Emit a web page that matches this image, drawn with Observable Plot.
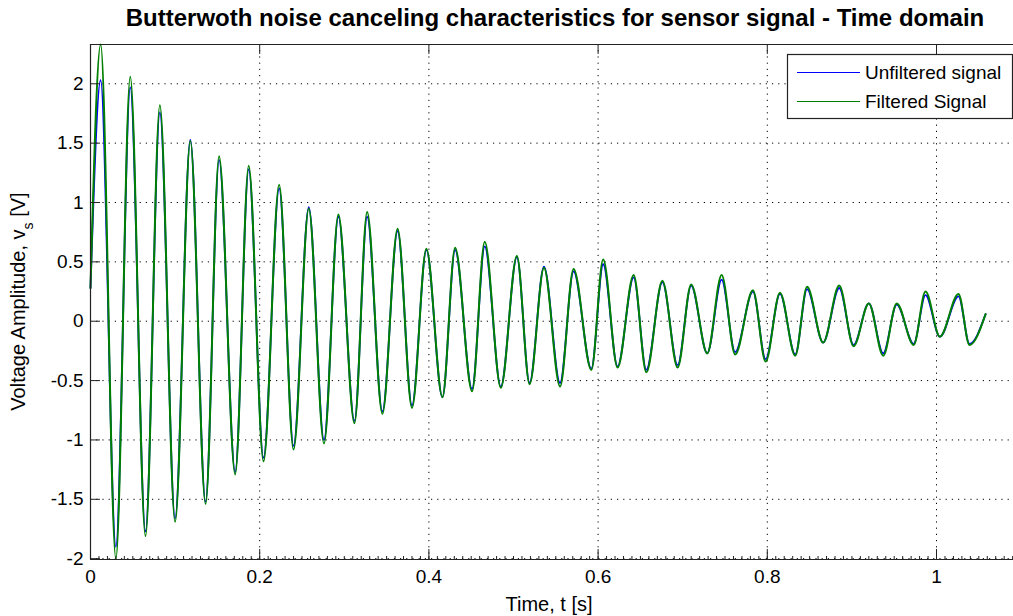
<!DOCTYPE html>
<html>
<head>
<meta charset="utf-8">
<script src="https://cdn.jsdelivr.net/npm/d3@7"></script>
<script src="https://cdn.jsdelivr.net/npm/@observablehq/plot@0.6"></script>
<style>
html, body { margin: 0; padding: 0; background: #fff; overflow: hidden; }
#chart { width: 1013px; height: 616px; }
</style>
</head>
<body>
<div id="chart"></div>
<script>
// ---- data (times of successive extrema, seconds) ----
const time = [0.000, 0.012, 0.030, 0.047, 0.065, 0.082, 0.100, 0.118, 0.136, 0.152,
  0.171, 0.187, 0.2045, 0.223, 0.240, 0.258, 0.276, 0.293, 0.312, 0.327,
  0.345, 0.363, 0.380, 0.397, 0.416, 0.431, 0.451, 0.466, 0.485, 0.504,
  0.519, 0.536, 0.555, 0.571, 0.592, 0.606, 0.623, 0.642, 0.657, 0.676,
  0.694, 0.710, 0.729, 0.746, 0.762, 0.783, 0.798, 0.815, 0.833, 0.847,
  0.866, 0.885, 0.902, 0.920, 0.937, 0.953, 0.973, 0.987, 1.004, 1.026,
  1.039, 1.058];
const unfiltered = [0.28, 2.03, -1.90, 1.97, -1.77, 1.76, -1.66, 1.53, -1.52, 1.36,
  -1.27, 1.28, -1.15, 1.12, -1.05, 0.96, -1.00, 0.88, -0.84, 0.88,
  -0.76, 0.76, -0.71, 0.60, -0.64, 0.60, -0.57, 0.63, -0.55, 0.54,
  -0.52, 0.46, -0.52, 0.42, -0.40, 0.48, -0.38, 0.37, -0.41, 0.33,
  -0.37, 0.30, -0.27, 0.35, -0.26, 0.25, -0.32, 0.23, -0.28, 0.27,
  -0.18, 0.28, -0.20, 0.15, -0.27, 0.14, -0.19, 0.22, -0.13, 0.21,
  -0.19, 0.06];
const filtered = [0.28, 2.33, -2.00, 2.06, -1.81, 1.82, -1.69, 1.52, -1.54, 1.39,
  -1.29, 1.31, -1.18, 1.15, -1.08, 0.95, -1.03, 0.90, -0.86, 0.92,
  -0.78, 0.78, -0.73, 0.61, -0.64, 0.62, -0.59, 0.67, -0.56, 0.55,
  -0.53, 0.45, -0.55, 0.44, -0.41, 0.52, -0.39, 0.39, -0.43, 0.34,
  -0.39, 0.31, -0.27, 0.39, -0.28, 0.26, -0.34, 0.24, -0.29, 0.29,
  -0.18, 0.30, -0.21, 0.15, -0.29, 0.15, -0.20, 0.25, -0.13, 0.23,
  -0.20, 0.06];
const seriesNames = ["Unfiltered signal", "Filtered Signal"];
const seriesColors = ["#0000ff", "#008000"];
const xTicks = [0, 0.2, 0.4, 0.6, 0.8, 1];
const xTickLabels = ["0", "0.2", "0.4", "0.6", "0.8", "1"];
const yTicks = [-2, -1.5, -1, -0.5, 0, 0.5, 1, 1.5, 2];
const yTickLabels = ["-2", "-1.5", "-1", "-0.5", "0", "0.5", "1", "1.5", "2"];
const xDomain = [0, 1.091];
const yDomain = [-2.007, 2.331];
const titleText = "Butterwoth noise canceling characteristics for sensor signal - Time domain";
const xLabelText = "Time, t [s]";

// ---- layout ----
const W = 1013, H = 616, mL = 90, mR = 0, mT = 44, mB = 57;
const frameW = W - mL - mR, frameH = H - mT - mB;
const FONT = "Arial, 'Liberation Sans', Helvetica, sans-serif";
const xMinor = d3.range(0, 110).map(i => i / 100);

const data = time.map((t, i) => ({t, u: unfiltered[i], f: filtered[i]}));

const chart = Plot.plot({
  width: W, height: H,
  marginLeft: mL, marginRight: mR, marginTop: mT, marginBottom: mB,
  style: {fontFamily: FONT, fontSize: "19px", color: "#000", background: "#fff"},
  x: {domain: xDomain},
  y: {domain: yDomain},
  marks: [
    Plot.gridX(xTicks, {stroke: "#000", strokeOpacity: 1, strokeDasharray: "1.2,5"}),
    Plot.gridY(yTicks, {stroke: "#000", strokeOpacity: 1, strokeDasharray: "1.2,5"}),
    Plot.line(data, {x: "t", y: "u", stroke: seriesColors[0], strokeWidth: 1.8, curve: "monotone-x"}),
    Plot.line(data, {x: "t", y: "f", stroke: seriesColors[1], strokeWidth: 2, curve: "monotone-x"}),
    // box lines
    Plot.ruleX([xDomain[0]], {stroke: "#222", strokeWidth: 1.2}),
    Plot.ruleY(yDomain, {stroke: "#222", strokeWidth: 1.2}),
    // inward ticks
    Plot.tickX(xTicks, {x: d => d, insetTop: frameH - 10, stroke: "#222"}),
    Plot.tickX(xTicks, {x: d => d, insetBottom: frameH - 10, stroke: "#222"}),
    Plot.tickX(xMinor, {x: d => d, insetTop: frameH - 3, stroke: "#222"}),
    Plot.tickY(yTicks, {y: d => d, insetRight: frameW - 10, stroke: "#222"}),
    Plot.axisX(xTicks, {tickSize: 0, tickPadding: 10, label: null, fontSize: 19,
      tickFormat: d => xTickLabels[xTicks.indexOf(d)]}),
    Plot.axisY(yTicks, {tickSize: 0, tickPadding: 7, label: null, fontSize: 19,
      tickFormat: d => yTickLabels[yTicks.indexOf(d)]})
  ]
});
document.getElementById("chart").appendChild(chart);

// ---- title, axis labels, legend ----
const svg = d3.select(chart);
const cx = mL + (1020 - mL) / 2;
svg.append("text")
  .attr("x", cx).attr("y", 26)
  .attr("text-anchor", "middle")
  .style("font-family", FONT).style("font-size", "24px").style("font-weight", "bold")
  .attr("fill", "#000")
  .text(titleText);

svg.append("text")
  .attr("x", cx - 6).attr("y", 611)
  .attr("text-anchor", "middle")
  .style("font-family", FONT).style("font-size", "20px")
  .attr("fill", "#000")
  .text(xLabelText);

const yl = svg.append("text")
  .attr("transform", `translate(25,${mT + frameH / 2}) rotate(-90)`)
  .attr("text-anchor", "middle")
  .style("font-family", FONT).style("font-size", "20px")
  .attr("fill", "#000");
yl.append("tspan").text("Voltage Amplitude, v");
yl.append("tspan").attr("baseline-shift", "sub").style("font-size", "14px").text("s");
yl.append("tspan").text(" [V]");

const lg = svg.append("g");
lg.append("rect").attr("x", 787.5).attr("y", 54.5).attr("width", 225).attr("height", 64)
  .attr("fill", "#fff").attr("stroke", "#222").attr("stroke-width", 1.2);
seriesNames.forEach((name, i) => {
  const y = 72.5 + i * 29;
  lg.append("line").attr("x1", 797).attr("x2", 860).attr("y1", y).attr("y2", y)
    .attr("stroke", seriesColors[i]).attr("stroke-width", 1.2);
  lg.append("text").attr("x", 865).attr("y", y).attr("dy", "0.35em")
    .attr("text-anchor", "start")
    .style("font-family", FONT).style("font-size", "19px").attr("fill", "#000")
    .text(name);
});
</script>
</body>
</html>
